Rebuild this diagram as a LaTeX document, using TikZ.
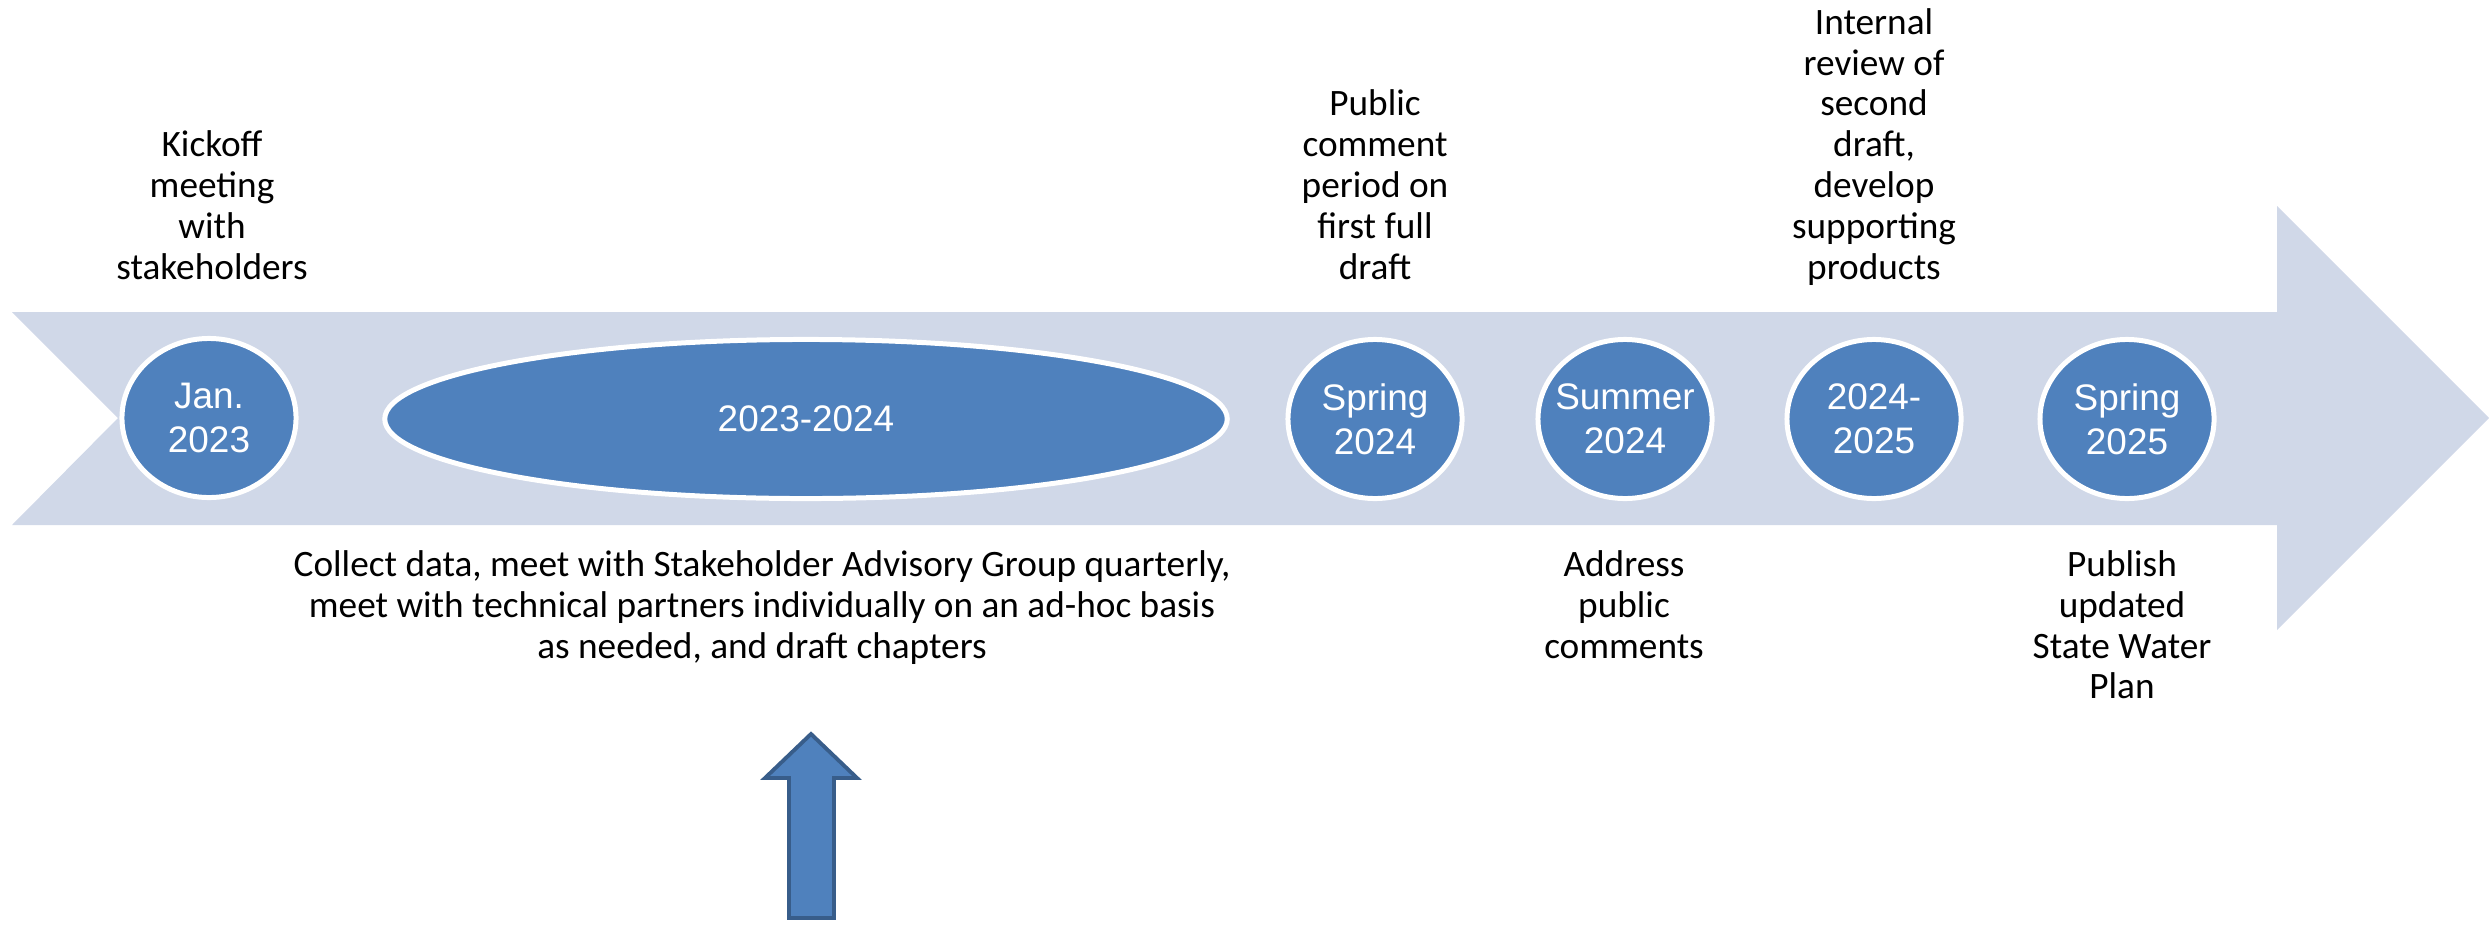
\documentclass[tikz,border=0pt]{standalone}
\usepackage{fontspec}
\setmainfont{Carlito}
\newfontfamily\arialfont{Liberation Sans}
\usetikzlibrary{shapes.geometric}
\definecolor{bandblue}{HTML}{D0D8E8}
\definecolor{dotblue}{HTML}{4F81BD}
\definecolor{edgeblue}{HTML}{385D8A}

\begin{document}
\begin{tikzpicture}[x=0.01cm, y=-0.01cm,
    milestone/.style={ellipse, draw=white, line width=1.42pt, fill=dotblue,
      minimum width=1.74cm, minimum height=1.59cm, inner sep=0},
    datetext/.style={text=white, font=\arialfont\fontsize{10.5}{12.5}\selectfont,
      align=center, inner sep=0},
    note/.style={font=\fontsize{10.6}{11.6}\selectfont, align=center, inner sep=0,
      execute at begin node=\strut, execute at end node=\strut}]
  \useasboundingbox (0,0) rectangle (2489,924);

  % timeline band
  \fill[bandblue] (12,312) -- (2277,312) -- (2277,206) -- (2489,418)
    -- (2277,630) -- (2277,525) -- (12,525) -- (118,418) -- cycle;

  % Jan. 2023
  \node[milestone] (jan) at (209,418) {};
  \node[datetext] (jantext) at (jan) {Jan.\\2023};
  \node[note, anchor=south] (kickoff) at (212,292) {Kickoff\\meeting\\with\\stakeholders};

  % 2023-2024
  \node[milestone, minimum width=8.42cm] (work) at (806,419) {};
  \node[datetext] (worktext) at (work) {2023-2024};
  \node[note, anchor=north] (collect) at (762,550) {Collect data, meet with Stakeholder Advisory Group quarterly,\\meet with technical partners individually on an ad-hoc basis\\as needed, and draft chapters};

  % Spring 2024
  \node[milestone] (spring) at (1375,419) {};
  \node[datetext] (springtext) at (spring) {Spring\\2024};
  \node[note, anchor=south] (public) at (1375,292) {Public\\comment\\period on\\first full\\draft};

  % Summer 2024
  \node[milestone] (summer) at (1625,419) {};
  \node[datetext] (summertext) at (summer) {Summer\\2024};
  \node[note, anchor=north] (address) at (1624,550) {Address\\public\\comments};

  % 2024-2025
  \node[milestone] (review) at (1874,419) {};
  \node[datetext] (reviewtext) at (review) {2024-\\2025};
  \node[note, anchor=south] (internal) at (1874,292) {Internal\\review of\\second\\draft,\\develop\\supporting\\products};

  % Spring 2025
  \node[milestone] (final) at (2127,419) {};
  \node[datetext] (finaltext) at (final) {Spring\\2025};
  \node[note, anchor=north] (publish) at (2122,550) {Publish\\updated\\State Water\\Plan};

  % pointer arrow
  \filldraw[fill=dotblue, draw=edgeblue, line width=1.1pt] (811,734) -- (857,778)
    -- (834,778) -- (834,918) -- (789,918) -- (789,778) -- (765,778) -- cycle;
\end{tikzpicture}
\end{document}
